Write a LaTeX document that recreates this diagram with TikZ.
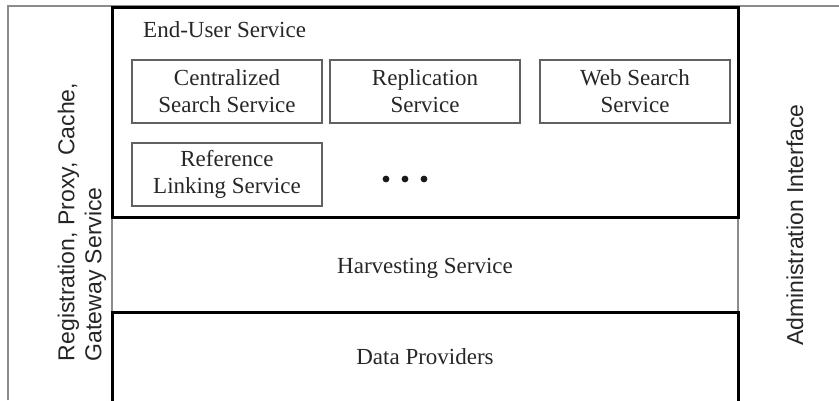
\documentclass[tikz,border=0pt]{standalone}
\usepackage{fontspec}
\setmainfont{Liberation Serif}
\newfontfamily\arialf{Liberation Sans}
\begin{document}
\begin{tikzpicture}[x=1pt,y=-1pt,
  outerline/.style={draw=black!45, line width=1.8pt},
  layer/.style={draw=black, line width=3pt},
  txt/.style={font=\fontsize{23}{27}\selectfont, text=black!85, align=center, inner sep=0pt},
  sidetxt/.style={font=\arialf\fontsize{23}{27}\selectfont, text=black!85, align=left, inner sep=0pt, rotate=90},
  svcbox/.style={txt, draw=black!62, line width=2pt, minimum width=190pt, minimum height=63pt}
]
\useasboundingbox (0,0) rectangle (839,400);
% outer frame (gray)
\draw[outerline] (8,400) -- (8,6) -- (839,6);
\draw[outerline] (112,217) -- (112,312);
\draw[outerline] (738,217) -- (738,312);
% end-user layer
\node[layer, minimum width=626pt, minimum height=210pt, inner sep=0pt] (eus) at (425,112) {};
% data providers layer (open bottom)
\draw[layer] (112,401) -- (112,312) -- (738,312) -- (738,401);
% titles
\node[txt, anchor=west] (eustitle) at (143,30) {End-User Service};
\node[txt] (harv) at (425,268) {Harvesting Service};
\node[txt] (dp) at (425,357) {Data Providers};
% service boxes
\node[svcbox] (central) at (227,91.5) {Centralized\\Search Service};
\node[svcbox] (repl) at (425,91.5) {Replication\\Service};
\node[svcbox] (web) at (635,91.5) {Web Search\\Service};
\node[svcbox] (reflink) at (227,174) {Reference\\Linking Service};
% ellipsis dots
\coordinate (d1) at (386,179);
\coordinate (d2) at (405,179);
\coordinate (d3) at (424,179);
\foreach \d in {d1,d2,d3} \fill[black!90] (\d) circle (3.4pt);
% side labels
\node[sidetxt] (reg) at (82,222) {Registration, Proxy, Cache,\\Gateway Service};
\node[sidetxt] (admin) at (795,225) {Administration Interface};
\end{tikzpicture}
\end{document}
